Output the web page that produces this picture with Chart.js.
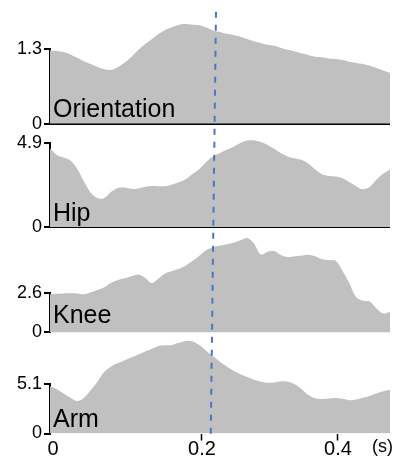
<!DOCTYPE html>
<html>
<head>
<meta charset="utf-8">
<script src="https://cdn.jsdelivr.net/npm/chart.js@4.4.1/dist/chart.umd.min.js"></script>
<style>
  html, body { margin: 0; padding: 0; background: #fff; }
</style>
</head>
<body>
<canvas id="chart_jointTraces" width="394" height="456"></canvas>
<script>
// one sample every 10 ms
const startTime = -0.0235;
const sampleStep = 0.01;

const orientation = [1.28, 1.27, 1.25, 1.21, 1.15, 1.09, 1.04, 0.99, 0.95, 0.94, 0.99, 1.07, 1.17, 1.29, 1.39, 1.48, 1.57,
  1.64, 1.69, 1.73, 1.74, 1.73, 1.72, 1.68, 1.63, 1.60, 1.57, 1.55, 1.52, 1.48, 1.44, 1.41, 1.38, 1.36, 1.32, 1.29,
  1.26, 1.23, 1.20, 1.17, 1.16, 1.14, 1.13, 1.11, 1.08, 1.06, 1.04, 1.01, 0.97, 0.93, 0.89];
const hip = [4.57, 4.20, 4.05, 3.88, 3.40, 2.65, 2.00, 1.68, 1.70, 2.05, 2.28, 2.30, 2.22, 2.25, 2.35, 2.39, 2.38,
  2.38, 2.48, 2.62, 2.80, 3.10, 3.40, 3.80, 4.12, 4.32, 4.50, 4.68, 4.90, 5.04, 5.05, 4.95, 4.78, 4.55, 4.30, 4.10,
  4.00, 3.92, 3.70, 3.35, 3.08, 2.98, 2.94, 2.84, 2.62, 2.38, 2.20, 2.33, 2.75, 3.12, 3.36];
const knee = [2.53, 2.56, 2.59, 2.60, 2.58, 2.53, 2.66, 2.82, 3.00, 3.30, 3.48, 3.60, 3.72, 3.84, 3.62, 3.28, 3.60,
  3.93, 4.08, 4.22, 4.45, 4.75, 5.10, 5.48, 5.66, 5.75, 5.85, 5.95, 6.12, 6.27, 5.90, 5.17, 5.35, 5.40, 5.12, 5.00,
  5.05, 5.10, 5.16, 5.05, 4.86, 4.80, 4.75, 4.10, 3.30, 2.35, 2.10, 2.05, 1.60, 1.25, 1.37];
const arm = [4.89, 4.60, 4.15, 3.70, 3.36, 3.70, 4.50, 5.40, 6.40, 6.95, 7.30, 7.60, 7.90, 8.20, 8.50, 8.80, 9.08,
  9.15, 9.19, 9.40, 9.60, 9.55, 9.14, 8.55, 8.00, 7.45, 6.95, 6.50, 6.15, 5.85, 5.58, 5.40, 5.26, 5.30, 5.42, 5.38,
  5.10, 4.60, 4.00, 3.65, 3.58, 3.62, 3.68, 3.60, 3.45, 3.52, 3.70, 3.90, 4.15, 4.38, 4.55];

const panelNames = ['Orientation', 'Hip', 'Knee', 'Arm'];
const panelTicks = [1.3, 4.9, 2.6, 5.1];
const xTickValues = [0.2, 0.4];
const xTickLabels = ['0', '0.2', '0.4'];
const markerTimes = [0.2206, 0.2128]; // dashed marker, top and bottom end

const series = [orientation, hip, knee, arm];
const panelIds = ['yOri', 'yHip', 'yKnee', 'yArm'];
const times = orientation.map((v, i) => startTime + i * sampleStep);
const FONT = '"Liberation Sans", Arial, sans-serif';

function panelAxis(i, weight, stackWeight, showBase) {
  const top = panelTicks[i];
  return {
    type: 'linear', position: 'left', stack: 'panels', stackWeight: stackWeight, weight: weight,
    min: 0, max: top, z: 1,
    afterBuildTicks: s => { s.ticks = [{ value: 0 }, { value: top }]; },
    afterFit: s => { s.width = 50; },
    ticks: {
      autoSkip: false, padding: 2, color: '#000',
      font: { family: FONT, size: 18 },
      callback: v => String(v)
    },
    grid: {
      drawOnChartArea: true,
      color: c => (showBase && c.tick && c.tick.value === 0) ? '#000' : 'rgba(0,0,0,0)',
      lineWidth: 2, tickColor: '#000', tickWidth: 2, tickLength: 6
    },
    border: { display: true, color: '#000', width: 2 }
  };
}

function gapAxis(weight, stackWeight) {
  return {
    type: 'linear', position: 'left', stack: 'panels', stackWeight: stackWeight, weight: weight,
    afterFit: s => { s.width = 50; },
    ticks: { display: false }, grid: { display: false }, border: { display: false }
  };
}

const overlay = {
  id: 'overlay',
  afterDraw(chart) {
    const ctx = chart.ctx, xs = chart.scales.x, area = chart.chartArea;
    const labelLift = [6.5, 6.5, 9, 7];
    ctx.save();
    ctx.fillStyle = '#000';
    ctx.font = '25px ' + FONT;
    ctx.textAlign = 'left';
    ctx.textBaseline = 'alphabetic';
    panelIds.forEach((id, i) => {
      const base = chart.scales[id].getPixelForValue(0);
      ctx.fillText(panelNames[i], area.left + 3, base - labelLift[i]);
    });
    ctx.font = '18px ' + FONT;
    ctx.fillText('(s)', area.right - 18, area.bottom + 18);

    ctx.strokeStyle = '#4877c2';
    ctx.lineWidth = 2;
    ctx.setLineDash([6, 7]);
    ctx.beginPath();
    ctx.moveTo(xs.getPixelForValue(markerTimes[0]), area.top - 1);
    ctx.lineTo(xs.getPixelForValue(markerTimes[1]), area.bottom + 7);
    ctx.stroke();
    ctx.restore();
  }
};

new Chart(document.getElementById('chart_jointTraces'), {
  type: 'line',
  data: {
    labels: times,
    datasets: series.map((vals, i) => ({
      label: panelNames[i],
      data: vals.map((v, j) => ({ x: times[j], y: v })),
      yAxisID: panelIds[i],
      fill: 'origin',
      clip: false,
      backgroundColor: '#c0c0c0',
      borderWidth: 0,
      pointRadius: 0,
      tension: 0.35
    }))
  },
  options: {
    responsive: false,
    animation: false,
    layout: { padding: { top: 10, right: 4, left: 0, bottom: 0 } },
    plugins: { legend: { display: false }, tooltip: { enabled: false } },
    scales: {
      x: {
        type: 'linear', position: 'bottom',
        min: startTime, max: times[times.length - 1],
        // first label sits just right of the y axis, its tick mark is hidden
        afterBuildTicks: s => { s.ticks = [startTime + 0.0045].concat(xTickValues).map(v => ({ value: v })); },
        afterFit: s => { s.height = 22.5; },
        ticks: {
          autoSkip: false, maxRotation: 0, padding: -3, color: '#000',
          font: { family: FONT, size: 20 },
          callback: (v, i) => xTickLabels[i]
        },
        grid: {
          drawOnChartArea: false, tickLength: 7, tickWidth: 1.5,
          tickColor: c => c.index === 0 ? 'rgba(0,0,0,0)' : '#000'
        },
        border: { display: false }
      },
      gap0: gapAxis(8, 36.7),
      yOri: panelAxis(0, 7, 74.8, true),
      gap1: gapAxis(6, 19.5),
      yHip: panelAxis(1, 5, 84.7, true),
      gap2: gapAxis(4, 66.6),
      yKnee: panelAxis(2, 3, 39.4, false),
      gap3: gapAxis(2, 52.3),
      yArm: panelAxis(3, 1, 49.5, false)
    }
  },
  plugins: [overlay]
});
</script>
</body>
</html>
